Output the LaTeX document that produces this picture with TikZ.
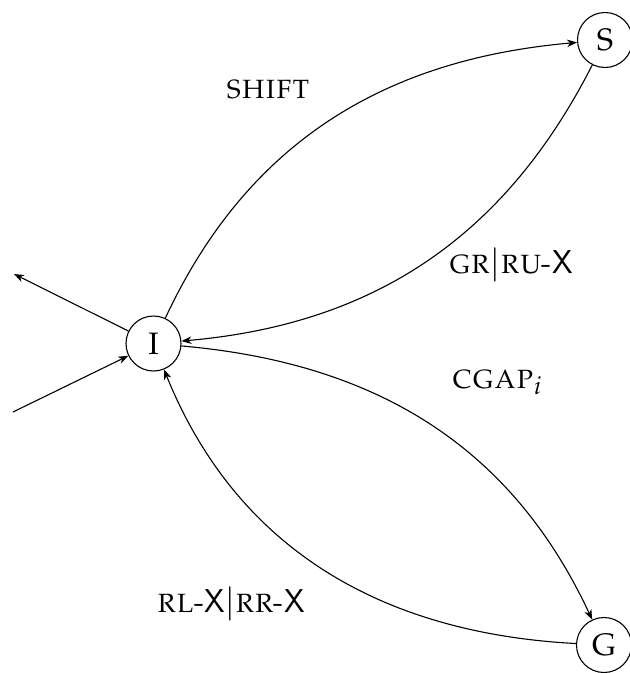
\documentclass[tikz,border=0pt]{standalone}
\usepackage[T1]{fontenc}
\usepackage{mathpazo}
\usetikzlibrary{arrows.meta}
\newcommand\sfx[1]{{\fontencoding{TU}\fontfamily{lmss}\selectfont #1}}
\begin{document}
\begin{tikzpicture}[x=1pt,y=1pt,
  every node/.style={font=\fontsize{31}{37}\selectfont},
  state/.style={draw,circle,line width=1.1pt,minimum size=55pt,inner sep=0pt},
  lbl/.style={anchor=base,inner sep=0pt,font=\fontsize{33}{39}\selectfont},
  edge/.style={line width=1.1pt,-{Stealth[length=10pt,width=7.5pt,inset=3pt]}}]
\useasboundingbox (0,0) rectangle (630,-673);
\node[state] (I) at (153.5,-343.5) {I};
\node[state] (S) at (605,-40) {S};
\node[state] (G) at (604,-645) {G};
\coordinate (out) at (14,-274);
\coordinate (in) at (13,-412);
\draw[edge] (I) -- (out);
\draw[edge] (in) -- (I);
\draw[edge] (I) to[out=65,in=185] (S);
\draw[edge] (S) to[out=243,in=5] (I);
\draw[edge] (I) to[out=-5,in=115] (G);
\draw[edge] (G) to[out=177,in=-68] (I);
\node[lbl] (l1) at (268,-98) {\textsc{shift}};
\node[lbl] (l2) at (511,-273) {\textsc{gr}$|$\textsc{ru}\sfx{-X}};
\node[lbl] (l3) at (497,-388) {\textsc{cgap}$_i$};
\node[lbl] (l4) at (231,-612) {\textsc{rl}\sfx{-X}$|$\textsc{rr}\sfx{-X}};
\end{tikzpicture}
\end{document}
